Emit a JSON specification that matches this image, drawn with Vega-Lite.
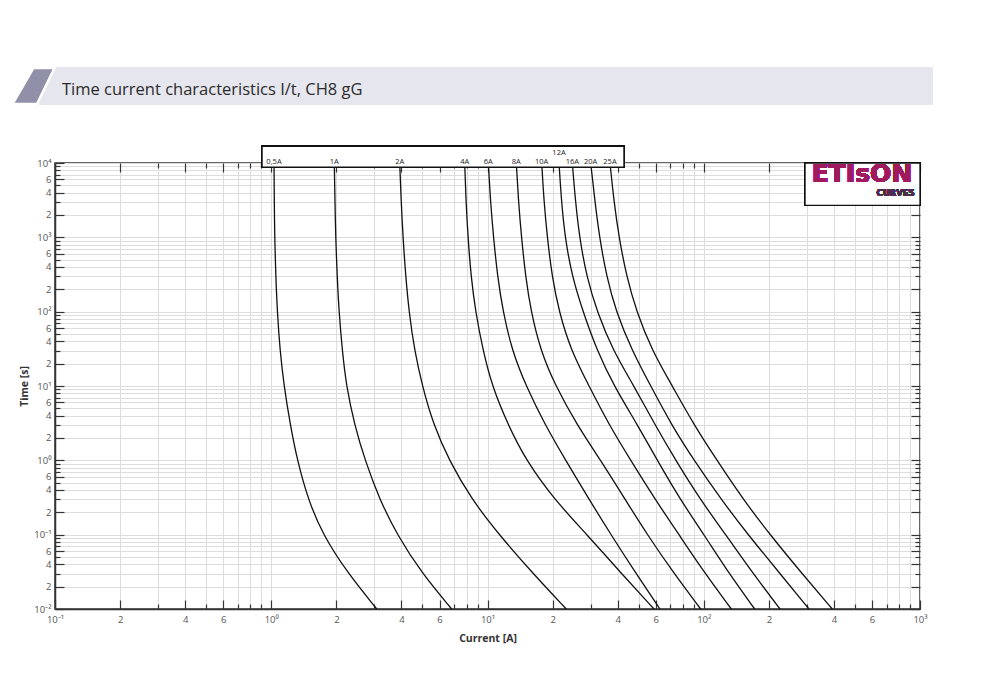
{
  "$schema": "https://vega.github.io/schema/vega-lite/v6.json",
  "background": "white",
  "padding": {"left": 7, "top": 62, "right": 5, "bottom": 5},
  "config": {"view": {"stroke": null}, "font": "Open Sans"},
  "columns": 1,
  "align": "none",
  "spacing": 34,
  "concat": [
    {
      "width": 878,
      "height": 38,
      "view": {"stroke": null},
      "data": {"values": [{"title": "Time current characteristics I/t, CH8 gG"}]},
      "layer": [
        {
          "mark": {"type": "rect", "fill": "#e6e6ee"},
          "encoding": {
            "x": {"datum": -0.018223, "type": "quantitative", "scale": {"domain": [0, 1]}, "axis": null},
            "x2": {"datum": 1},
            "y": {"datum": 0, "type": "quantitative", "scale": {"domain": [0, 1]}, "axis": null},
            "y2": {"datum": 1}
          }
        },
        {
          "mark": {"type": "point", "shape": "M -1.932 0.82 L -0.818 0.82 L -0.023 -0.82 L -0.977 -0.82 Z", "filled": true, "size": 1936, "fill": "#9090a8", "stroke": "white", "strokeWidth": 2.5, "opacity": 1},
          "encoding": {
            "x": {"datum": 0, "type": "quantitative", "scale": {"domain": [0, 1]}, "axis": null},
            "y": {"datum": 0.5, "type": "quantitative", "scale": {"domain": [0, 1]}, "axis": null}
          }
        },
        {
          "mark": {"type": "text", "align": "left", "baseline": "alphabetic", "fontSize": 16.5, "color": "#2b2b2b", "font": "Open Sans", "dx": 23, "dy": 9},
          "encoding": {
            "x": {"datum": -0.018223, "type": "quantitative", "scale": {"domain": [0, 1]}, "axis": null},
            "y": {"datum": 0.5, "type": "quantitative", "scale": {"domain": [0, 1]}, "axis": null},
            "text": {"field": "title"}
          }
        }
      ]
    },
    {
      "width": 865,
      "height": 446,
      "view": {"stroke": "#333333", "strokeWidth": 1.5},
      "data": {"values": [
        {"fuse": "0,5A", "I": 1.0297, "t": 10000}, {"fuse": "0,5A", "I": 1.0330, "t": 3000}, {"fuse": "0,5A", "I": 1.0374, "t": 1000}, {"fuse": "0,5A", "I": 1.0497, "t": 300}, {"fuse": "0,5A", "I": 1.0665, "t": 100}, {"fuse": "0,5A", "I": 1.0977, "t": 30}, {"fuse": "0,5A", "I": 1.1456, "t": 10}, {"fuse": "0,5A", "I": 1.2249, "t": 3}, {"fuse": "0,5A", "I": 1.3196, "t": 1}, {"fuse": "0,5A", "I": 1.4788, "t": 0.3}, {"fuse": "0,5A", "I": 1.7295, "t": 0.1}, {"fuse": "0,5A", "I": 2.2649, "t": 0.03}, {"fuse": "0,5A", "I": 3.0765, "t": 0.01},
        {"fuse": "1A", "I": 1.9565, "t": 10000}, {"fuse": "1A", "I": 1.9711, "t": 3000}, {"fuse": "1A", "I": 1.9859, "t": 1000}, {"fuse": "1A", "I": 2.0179, "t": 300}, {"fuse": "1A", "I": 2.0570, "t": 100}, {"fuse": "1A", "I": 2.1305, "t": 30}, {"fuse": "1A", "I": 2.2241, "t": 10}, {"fuse": "1A", "I": 2.4266, "t": 3}, {"fuse": "1A", "I": 2.7137, "t": 1}, {"fuse": "1A", "I": 3.1664, "t": 0.3}, {"fuse": "1A", "I": 3.8148, "t": 0.1}, {"fuse": "1A", "I": 4.9785, "t": 0.03}, {"fuse": "1A", "I": 6.8306, "t": 0.01},
        {"fuse": "2A", "I": 3.9264, "t": 10000}, {"fuse": "2A", "I": 3.9895, "t": 3000}, {"fuse": "2A", "I": 4.0668, "t": 1000}, {"fuse": "2A", "I": 4.1853, "t": 300}, {"fuse": "2A", "I": 4.3350, "t": 100}, {"fuse": "2A", "I": 4.5962, "t": 30}, {"fuse": "2A", "I": 4.9946, "t": 10}, {"fuse": "2A", "I": 5.6272, "t": 3}, {"fuse": "2A", "I": 6.6368, "t": 1}, {"fuse": "2A", "I": 8.4356, "t": 0.3}, {"fuse": "2A", "I": 11.302, "t": 0.1}, {"fuse": "2A", "I": 16.236, "t": 0.03}, {"fuse": "2A", "I": 23.136, "t": 0.01},
        {"fuse": "4A", "I": 7.8447, "t": 10000}, {"fuse": "4A", "I": 7.9540, "t": 3000}, {"fuse": "4A", "I": 8.1251, "t": 1000}, {"fuse": "4A", "I": 8.3887, "t": 300}, {"fuse": "4A", "I": 8.8002, "t": 100}, {"fuse": "4A", "I": 9.5334, "t": 30}, {"fuse": "4A", "I": 10.491, "t": 10}, {"fuse": "4A", "I": 12.439, "t": 3}, {"fuse": "4A", "I": 15.068, "t": 1}, {"fuse": "4A", "I": 20.303, "t": 0.3}, {"fuse": "4A", "I": 28.849, "t": 0.1}, {"fuse": "4A", "I": 41.655, "t": 0.03}, {"fuse": "4A", "I": 58.887, "t": 0.01},
        {"fuse": "6A", "I": 10.086, "t": 10000}, {"fuse": "6A", "I": 10.325, "t": 3000}, {"fuse": "6A", "I": 10.660, "t": 1000}, {"fuse": "6A", "I": 11.122, "t": 300}, {"fuse": "6A", "I": 11.794, "t": 100}, {"fuse": "6A", "I": 12.981, "t": 30}, {"fuse": "6A", "I": 15.068, "t": 10}, {"fuse": "6A", "I": 18.450, "t": 3}, {"fuse": "6A", "I": 22.988, "t": 1}, {"fuse": "6A", "I": 29.469, "t": 0.3}, {"fuse": "6A", "I": 37.245, "t": 0.1}, {"fuse": "6A", "I": 48.608, "t": 0.03}, {"fuse": "6A", "I": 62.762, "t": 0.01},
        {"fuse": "8A", "I": 13.589, "t": 10000}, {"fuse": "8A", "I": 13.911, "t": 3000}, {"fuse": "8A", "I": 14.362, "t": 1000}, {"fuse": "8A", "I": 14.988, "t": 300}, {"fuse": "8A", "I": 15.891, "t": 100}, {"fuse": "8A", "I": 17.585, "t": 30}, {"fuse": "8A", "I": 20.627, "t": 10}, {"fuse": "8A", "I": 25.935, "t": 3}, {"fuse": "8A", "I": 33.378, "t": 1}, {"fuse": "8A", "I": 43.235, "t": 0.3}, {"fuse": "8A", "I": 54.823, "t": 0.1}, {"fuse": "8A", "I": 72.836, "t": 0.03}, {"fuse": "8A", "I": 96.806, "t": 0.01},
        {"fuse": "10A", "I": 17.809, "t": 10000}, {"fuse": "10A", "I": 18.250, "t": 3000}, {"fuse": "10A", "I": 18.902, "t": 1000}, {"fuse": "10A", "I": 19.872, "t": 300}, {"fuse": "10A", "I": 21.412, "t": 100}, {"fuse": "10A", "I": 24.326, "t": 30}, {"fuse": "10A", "I": 29.469, "t": 10}, {"fuse": "10A", "I": 36.461, "t": 3}, {"fuse": "10A", "I": 45.942, "t": 1}, {"fuse": "10A", "I": 59.506, "t": 0.3}, {"fuse": "10A", "I": 76.829, "t": 0.1}, {"fuse": "10A", "I": 101.34, "t": 0.03}, {"fuse": "10A", "I": 134.14, "t": 0.01},
        {"fuse": "12A", "I": 21.411, "t": 10000}, {"fuse": "12A", "I": 21.989, "t": 3000}, {"fuse": "12A", "I": 22.823, "t": 1000}, {"fuse": "12A", "I": 24.590, "t": 300}, {"fuse": "12A", "I": 27.645, "t": 100}, {"fuse": "12A", "I": 32.088, "t": 30}, {"fuse": "12A", "I": 38.457, "t": 10}, {"fuse": "12A", "I": 49.392, "t": 3}, {"fuse": "12A", "I": 60.982, "t": 1}, {"fuse": "12A", "I": 77.655, "t": 0.3}, {"fuse": "12A", "I": 100.27, "t": 0.1}, {"fuse": "12A", "I": 130.85, "t": 0.03}, {"fuse": "12A", "I": 172.03, "t": 0.01},
        {"fuse": "16A", "I": 24.669, "t": 10000}, {"fuse": "16A", "I": 25.523, "t": 3000}, {"fuse": "16A", "I": 26.633, "t": 1000}, {"fuse": "16A", "I": 28.695, "t": 300}, {"fuse": "16A", "I": 32.089, "t": 100}, {"fuse": "16A", "I": 38.050, "t": 30}, {"fuse": "16A", "I": 47.584, "t": 10}, {"fuse": "16A", "I": 59.506, "t": 3}, {"fuse": "16A", "I": 74.185, "t": 1}, {"fuse": "16A", "I": 96.088, "t": 0.3}, {"fuse": "16A", "I": 126.33, "t": 0.1}, {"fuse": "16A", "I": 168.94, "t": 0.03}, {"fuse": "16A", "I": 225.28, "t": 0.01},
        {"fuse": "20A", "I": 30.007, "t": 10000}, {"fuse": "20A", "I": 31.413, "t": 3000}, {"fuse": "20A", "I": 32.954, "t": 1000}, {"fuse": "20A", "I": 35.503, "t": 300}, {"fuse": "20A", "I": 39.285, "t": 100}, {"fuse": "20A", "I": 46.581, "t": 30}, {"fuse": "20A", "I": 56.847, "t": 10}, {"fuse": "20A", "I": 70.939, "t": 3}, {"fuse": "20A", "I": 90.140, "t": 1}, {"fuse": "20A", "I": 120.16, "t": 0.3}, {"fuse": "20A", "I": 160.17, "t": 0.1}, {"fuse": "20A", "I": 225.22, "t": 0.03}, {"fuse": "20A", "I": 306.67, "t": 0.01},
        {"fuse": "25A", "I": 36.850, "t": 10000}, {"fuse": "25A", "I": 38.457, "t": 3000}, {"fuse": "25A", "I": 40.559, "t": 1000}, {"fuse": "25A", "I": 43.933, "t": 300}, {"fuse": "25A", "I": 48.868, "t": 100}, {"fuse": "25A", "I": 57.638, "t": 30}, {"fuse": "25A", "I": 71.545, "t": 10}, {"fuse": "25A", "I": 90.139, "t": 3}, {"fuse": "25A", "I": 115.15, "t": 1}, {"fuse": "25A", "I": 151.87, "t": 0.3}, {"fuse": "25A", "I": 202.50, "t": 0.1}, {"fuse": "25A", "I": 284.69, "t": 0.03}, {"fuse": "25A", "I": 393.02, "t": 0.01}
      ]},
      "resolve": {"axis": {"x": "independent", "y": "independent"}},
      "layer": [
        {
          "mark": {"type": "line", "color": "#111111", "strokeWidth": 1.3, "interpolate": "basis"},
          "encoding": {
            "x": {
              "field": "I", "type": "quantitative",
              "scale": {"type": "log", "domain": [0.1, 1000], "nice": false},
              "axis": {
                "orient": "bottom",
                "values": [0.1,0.2,0.3,0.4,0.5,0.6,0.7,0.8,0.9,1,2,3,4,5,6,7,8,9,10,20,30,40,50,60,70,80,90,100,200,300,400,500,600,700,800,900,1000],
                "labelExpr": "datum.value == 0.1 ? '10⁻¹' : datum.value == 1 ? '10⁰' : datum.value == 10 ? '10¹' : datum.value == 100 ? '10²' : datum.value == 1000 ? '10³' : indexof([0.2,2,20,200], datum.value) >= 0 ? '2' : indexof([0.4,4,40,400], datum.value) >= 0 ? '4' : indexof([0.6,6,60,600], datum.value) >= 0 ? '6' : ''",
                "labelFlush": false, "labelOverlap": false,
                "grid": true, "gridColor": "#dddddd", "gridWidth": 1,
                "domainColor": "#333333", "domainWidth": 1.5,
                "tickColor": "#333333", "tickWidth": 1.2,
                "tickSize": {"condition": {"test": "indexof([0.1,0.2,0.4,0.6,1,2,4,6,10,20,40,60,100,200,400,600,1000], datum.value) >= 0", "value": -9}, "value": -5},
                "labelPadding": 14, "labelFontSize": 9.5, "labelColor": "#555555", "labelFont": "Open Sans",
                "title": "Current [A]", "titleFontSize": 10.5, "titleFontWeight": "bold", "titleColor": "#333333", "titleFont": "Open Sans", "titlePadding": 6
              }
            },
            "y": {
              "field": "t", "type": "quantitative",
              "scale": {"type": "log", "domain": [0.01, 10000], "nice": false},
              "axis": {
                "orient": "left",
                "values": [0.01,0.02,0.03,0.04,0.05,0.06,0.07,0.08,0.09,0.1,0.2,0.3,0.4,0.5,0.6,0.7,0.8,0.9,1,2,3,4,5,6,7,8,9,10,20,30,40,50,60,70,80,90,100,200,300,400,500,600,700,800,900,1000,2000,3000,4000,5000,6000,7000,8000,9000,10000],
                "labelExpr": "datum.value == 0.01 ? '10⁻²' : datum.value == 0.1 ? '10⁻¹' : datum.value == 1 ? '10⁰' : datum.value == 10 ? '10¹' : datum.value == 100 ? '10²' : datum.value == 1000 ? '10³' : datum.value == 10000 ? '10⁴' : indexof([0.02,0.2,2,20,200,2000], datum.value) >= 0 ? '2' : indexof([0.04,0.4,4,40,400,4000], datum.value) >= 0 ? '4' : indexof([0.06,0.6,6,60,600,6000], datum.value) >= 0 ? '6' : ''",
                "labelFlush": false, "labelOverlap": false,
                "grid": true, "gridColor": "#dddddd", "gridWidth": 1,
                "domainColor": "#333333", "domainWidth": 1.5,
                "tickColor": "#333333", "tickWidth": 1.2,
                "tickSize": {"condition": {"test": "indexof([0.01,0.02,0.04,0.06,0.1,0.2,0.4,0.6,1,2,4,6,10,20,40,60,100,200,400,600,1000,2000,4000,6000,10000], datum.value) >= 0", "value": -9}, "value": -5},
                "labelPadding": 13, "labelFontSize": 9.5, "labelColor": "#555555", "labelFont": "Open Sans",
                "title": "Time [s]", "titleFontSize": 10.5, "titleFontWeight": "bold", "titleColor": "#333333", "titleFont": "Open Sans", "titlePadding": 4
              }
            },
            "detail": {"field": "fuse"}
          }
        },
        {
          "transform": [{"filter": "datum.t == 10000"}],
          "mark": {"type": "point", "opacity": 0},
          "encoding": {
            "x": {
              "field": "I", "type": "quantitative",
              "scale": {"type": "log", "domain": [0.1, 1000], "nice": false},
              "axis": {
                "orient": "top",
                "values": [0.1,0.2,0.3,0.4,0.5,0.6,0.7,0.8,0.9,1,2,3,4,5,6,7,8,9,10,20,30,40,50,60,70,80,90,100,200,300,400,500,600,700,800,900,1000],
                "labels": false, "grid": false, "domain": false, "title": null,
                "tickColor": "#333333", "tickWidth": 1.2,
                "tickSize": {"condition": {"test": "indexof([0.1,0.2,0.4,0.6,1,2,4,6,10,20,40,60,100,200,400,600,1000], datum.value) >= 0", "value": -9}, "value": -5}
              }
            },
            "y": {
              "field": "t", "type": "quantitative",
              "scale": {"type": "log", "domain": [0.01, 10000], "nice": false},
              "axis": {
                "orient": "right",
                "values": [0.01,0.02,0.03,0.04,0.05,0.06,0.07,0.08,0.09,0.1,0.2,0.3,0.4,0.5,0.6,0.7,0.8,0.9,1,2,3,4,5,6,7,8,9,10,20,30,40,50,60,70,80,90,100,200,300,400,500,600,700,800,900,1000,2000,3000,4000,5000,6000,7000,8000,9000,10000],
                "labels": false, "grid": false, "domain": false, "title": null,
                "tickColor": "#333333", "tickWidth": 1.2,
                "tickSize": {"condition": {"test": "indexof([0.01,0.02,0.04,0.06,0.1,0.2,0.4,0.6,1,2,4,6,10,20,40,60,100,200,400,600,1000,2000,4000,6000,10000], datum.value) >= 0", "value": -9}, "value": -5}
              }
            }
          }
        },
        {
          "mark": {"type": "rect", "fill": "white", "stroke": "#111111", "strokeWidth": 1.5},
          "encoding": {
            "x": {"datum": 0.906, "type": "quantitative", "scale": {"type": "log", "domain": [0.1, 1000], "nice": false}, "axis": null},
            "x2": {"datum": 42.8},
            "y": {"datum": 16800, "type": "quantitative", "scale": {"type": "log", "domain": [0.01, 10000], "nice": false}, "axis": null},
            "y2": {"datum": 8750}
          }
        },
        {
          "transform": [{"filter": "datum.t == 10000 && datum.fuse != '12A'"}],
          "mark": {"type": "text", "baseline": "bottom", "fontSize": 7.5, "color": "#222222", "font": "Open Sans"},
          "encoding": {
            "x": {"field": "I", "type": "quantitative", "scale": {"type": "log", "domain": [0.1, 1000], "nice": false}, "axis": null},
            "y": {"datum": 9170, "type": "quantitative", "scale": {"type": "log", "domain": [0.01, 10000], "nice": false}, "axis": null},
            "text": {"field": "fuse"}
          }
        },
        {
          "transform": [{"filter": "datum.t == 10000 && datum.fuse == '12A'"}],
          "mark": {"type": "text", "baseline": "bottom", "fontSize": 7.5, "color": "#222222", "font": "Open Sans"},
          "encoding": {
            "x": {"field": "I", "type": "quantitative", "scale": {"type": "log", "domain": [0.1, 1000], "nice": false}, "axis": null},
            "y": {"datum": 12120, "type": "quantitative", "scale": {"type": "log", "domain": [0.01, 10000], "nice": false}, "axis": null},
            "text": {"field": "fuse"}
          }
        },
        {
          "mark": {"type": "rect", "fill": "white", "stroke": "#111111", "strokeWidth": 1.3},
          "encoding": {
            "x": {"datum": 294, "type": "quantitative", "scale": {"type": "log", "domain": [0.1, 1000], "nice": false}, "axis": null},
            "x2": {"datum": 1000},
            "y": {"datum": 10000, "type": "quantitative", "scale": {"type": "log", "domain": [0.01, 10000], "nice": false}, "axis": null},
            "y2": {"datum": 2696}
          }
        },
        {
          "mark": {"type": "text", "text": "ETIsON", "baseline": "alphabetic", "align": "center", "fontSize": 25, "fontWeight": "bold", "color": "#a01b5e", "font": "DejaVu Sans"},
          "encoding": {
            "x": {"datum": 539, "type": "quantitative", "scale": {"type": "log", "domain": [0.1, 1000], "nice": false}, "axis": null},
            "y": {"datum": 5552, "type": "quantitative", "scale": {"type": "log", "domain": [0.01, 10000], "nice": false}, "axis": null}
          }
        },
        {
          "mark": {"type": "text", "text": "CURVES", "baseline": "alphabetic", "align": "right", "fontSize": 8.5, "fontWeight": "bold", "color": "#4b2d4f", "font": "DejaVu Sans"},
          "encoding": {
            "x": {"datum": 945, "type": "quantitative", "scale": {"type": "log", "domain": [0.1, 1000], "nice": false}, "axis": null},
            "y": {"datum": 3597, "type": "quantitative", "scale": {"type": "log", "domain": [0.01, 10000], "nice": false}, "axis": null}
          }
        }
      ]
    }
  ]
}
